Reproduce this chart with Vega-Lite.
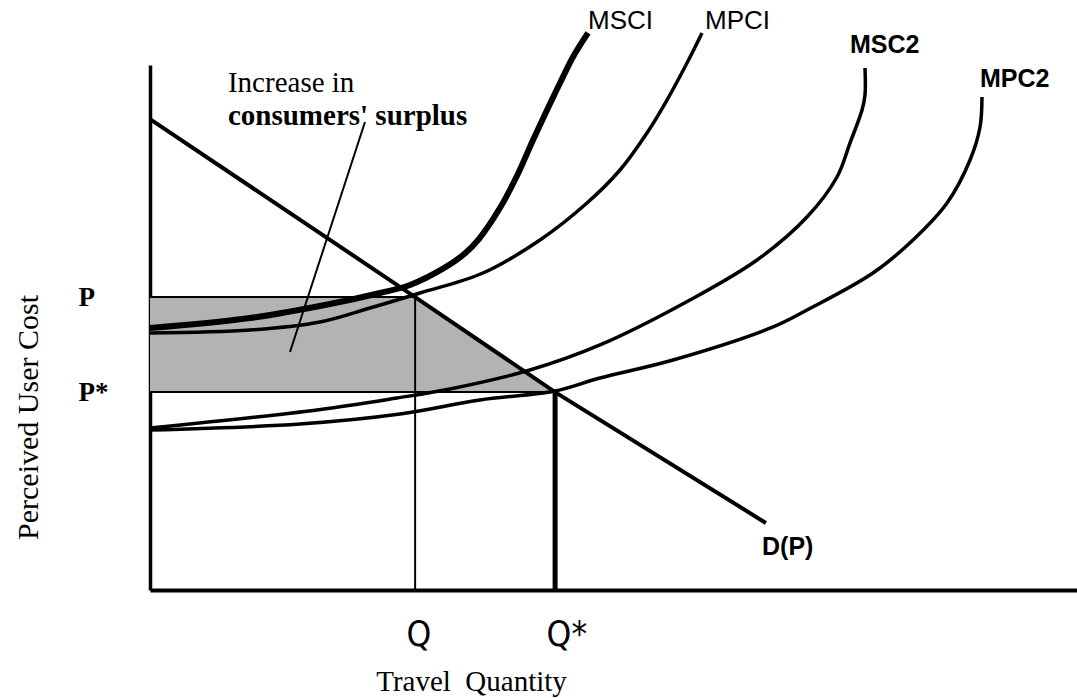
{
  "$schema": "https://vega.github.io/schema/vega-lite/v6.json",
  "width": 927,
  "height": 525,
  "autosize": {"type": "none"},
  "padding": {"left": 150, "top": 65, "right": 0, "bottom": 108},
  "background": "white",
  "config": {"view": {"stroke": null}},
  "datasets": {
    "shade": [
      {"x": 0, "y": 55.8, "y2": 37.7},
      {"x": 28.6, "y": 55.8, "y2": 37.7},
      {"x": 43.7, "y": 37.7, "y2": 37.7}
    ],
    "demand": [
      {"x": 0, "y": 89.7},
      {"x": 28.6, "y": 55.8},
      {"x": 43.7, "y": 37.7},
      {"x": 66.45, "y": 12.76}
    ],
    "curves": [
      {"curve": "MSCI", "i": 0, "x": 0, "y": 49.9},
      {"curve": "MSCI", "i": 1, "x": 10.79, "y": 51.81},
      {"curve": "MSCI", "i": 2, "x": 19.42, "y": 54.48},
      {"curve": "MSCI", "i": 3, "x": 24.81, "y": 56.57},
      {"curve": "MSCI", "i": 4, "x": 28.05, "y": 58.1},
      {"curve": "MSCI", "i": 5, "x": 31.61, "y": 61.2},
      {"curve": "MSCI", "i": 6, "x": 33.9, "y": 64.0},
      {"curve": "MSCI", "i": 7, "x": 35.5, "y": 66.9},
      {"curve": "MSCI", "i": 8, "x": 37.76, "y": 72.8},
      {"curve": "MSCI", "i": 9, "x": 39.59, "y": 78.9},
      {"curve": "MSCI", "i": 10, "x": 41.32, "y": 85.71},
      {"curve": "MSCI", "i": 11, "x": 42.83, "y": 91.43},
      {"curve": "MSCI", "i": 12, "x": 44.23, "y": 96.57},
      {"curve": "MSCI", "i": 13, "x": 45.63, "y": 101.52},
      {"curve": "MSCI", "i": 14, "x": 47.25, "y": 106.1},
      {"curve": "MPCI", "i": 0, "x": 0, "y": 48.95},
      {"curve": "MPCI", "i": 1, "x": 10.79, "y": 49.52},
      {"curve": "MPCI", "i": 2, "x": 18.34, "y": 51.05},
      {"curve": "MPCI", "i": 3, "x": 23.73, "y": 53.71},
      {"curve": "MPCI", "i": 4, "x": 29.13, "y": 56.57},
      {"curve": "MPCI", "i": 5, "x": 35.92, "y": 60.38},
      {"curve": "MPCI", "i": 6, "x": 42.07, "y": 66.67},
      {"curve": "MPCI", "i": 7, "x": 47.14, "y": 73.71},
      {"curve": "MPCI", "i": 8, "x": 50.7, "y": 80.0},
      {"curve": "MPCI", "i": 9, "x": 53.61, "y": 87.05},
      {"curve": "MPCI", "i": 10, "x": 55.77, "y": 93.33},
      {"curve": "MPCI", "i": 11, "x": 57.93, "y": 100.38},
      {"curve": "MPCI", "i": 12, "x": 59.55, "y": 106.1},
      {"curve": "MSC2", "i": 0, "x": 0, "y": 30.86},
      {"curve": "MSC2", "i": 1, "x": 18.02, "y": 34.29},
      {"curve": "MSC2", "i": 2, "x": 26.64, "y": 36.57},
      {"curve": "MSC2", "i": 3, "x": 32.36, "y": 38.29},
      {"curve": "MSC2", "i": 4, "x": 40.99, "y": 41.9},
      {"curve": "MSC2", "i": 5, "x": 48.54, "y": 46.67},
      {"curve": "MSC2", "i": 6, "x": 58.25, "y": 55.24},
      {"curve": "MSC2", "i": 7, "x": 65.48, "y": 62.86},
      {"curve": "MSC2", "i": 8, "x": 70.87, "y": 71.05},
      {"curve": "MSC2", "i": 9, "x": 74.11, "y": 78.67},
      {"curve": "MSC2", "i": 10, "x": 75.51, "y": 85.14},
      {"curve": "MSC2", "i": 11, "x": 76.81, "y": 91.43},
      {"curve": "MSC2", "i": 12, "x": 77.13, "y": 94.29},
      {"curve": "MSC2", "i": 13, "x": 77.13, "y": 99.43},
      {"curve": "MPC2", "i": 0, "x": 0, "y": 30.48},
      {"curve": "MPC2", "i": 1, "x": 16.18, "y": 31.62},
      {"curve": "MPC2", "i": 2, "x": 26.97, "y": 33.52},
      {"curve": "MPC2", "i": 3, "x": 35.6, "y": 36.19},
      {"curve": "MPC2", "i": 4, "x": 43.69, "y": 37.9},
      {"curve": "MPC2", "i": 5, "x": 48.54, "y": 40.38},
      {"curve": "MPC2", "i": 6, "x": 56.42, "y": 43.81},
      {"curve": "MPC2", "i": 7, "x": 67.21, "y": 50.1},
      {"curve": "MPC2", "i": 8, "x": 70.87, "y": 53.33},
      {"curve": "MPC2", "i": 9, "x": 77.99, "y": 60.38},
      {"curve": "MPC2", "i": 10, "x": 82.31, "y": 66.67},
      {"curve": "MPC2", "i": 11, "x": 85.98, "y": 73.71},
      {"curve": "MPC2", "i": 12, "x": 88.46, "y": 81.9},
      {"curve": "MPC2", "i": 13, "x": 89.54, "y": 88.19},
      {"curve": "MPC2", "i": 14, "x": 89.75, "y": 93.9}
    ],
    "rules": [
      {"name": "Q", "x": 28.6, "y": 0, "x2": 28.6, "y2": 55.8},
      {"name": "Qstar", "x": 43.7, "y": 0, "x2": 43.7, "y2": 37.7},
      {"name": "P", "x": 0, "y": 55.8, "x2": 28.6, "y2": 55.8},
      {"name": "Pstar", "x": 0, "y": 37.7, "x2": 43.7, "y2": 37.7},
      {"name": "leader", "x": 23.19, "y": 89.14, "x2": 15.1, "y2": 45.33}
    ],
    "labels": [
      {"text": "Increase in", "kind": "serif", "x": 8.41, "y": 94.86},
      {"text": "consumers' surplus", "kind": "serifbold", "x": 8.41, "y": 88.57},
      {"text": "MSCI", "kind": "sans", "x": 47.25, "y": 106.86},
      {"text": "MPCI", "kind": "sans", "x": 59.87, "y": 106.86},
      {"text": "MSC2", "kind": "sansbold", "x": 75.51, "y": 102.29},
      {"text": "MPC2", "kind": "sansbold", "x": 89.54, "y": 95.81},
      {"text": "D(P)", "kind": "sansbold", "x": 66.02, "y": 6.67}
    ]
  },
  "encoding": {
    "x": {
      "field": "x",
      "type": "quantitative",
      "scale": {"domain": [0, 100], "nice": false, "zero": false},
      "axis": {
        "values": [28.6, 43.7],
        "labelExpr": "datum.value < 35 ? 'Q' : 'Q*'",
        "grid": false,
        "ticks": false,
        "tickSize": 0,
        "labelFlush": false,
        "labelAlign": "left",
        "labelOffset": -9,
        "labelBaseline": "alphabetic",
        "labelPadding": 55,
        "labelFont": "DejaVu Sans Condensed, DejaVu Sans, sans-serif",
        "labelFontWeight": 200,
        "labelFontSize": 35,
        "labelColor": "black",
        "domainColor": "black",
        "domainWidth": 4,
        "title": "Travel\u00a0\u00a0Quantity",
        "titleFont": "Liberation Serif",
        "titleFontSize": 29,
        "titleFontWeight": "normal",
        "titleColor": "black",
        "titleX": 321,
        "titleY": 100,
        "titleBaseline": "alphabetic",
        "titleAlign": "center"
      }
    },
    "y": {
      "field": "y",
      "type": "quantitative",
      "scale": {"domain": [0, 100], "nice": false, "zero": false},
      "axis": {
        "values": [37.7, 55.8],
        "labelExpr": "datum.value > 50 ? 'P' : 'P*'",
        "grid": false,
        "ticks": false,
        "tickSize": 0,
        "labelFlush": false,
        "labelAlign": "left",
        "labelBaseline": "middle",
        "labelPadding": 72,
        "labelFont": "Liberation Serif",
        "labelFontWeight": "bold",
        "labelFontSize": 27,
        "labelColor": "black",
        "domainColor": "black",
        "domainWidth": 3.5,
        "title": "Perceived User Cost",
        "titleFont": "Liberation Serif",
        "titleFontSize": 30,
        "titleFontWeight": "normal",
        "titleColor": "black",
        "titleAngle": -90,
        "titleX": -113,
        "titleY": 352,
        "titleBaseline": "alphabetic",
        "titleAlign": "center"
      }
    }
  },
  "layer": [
    {
      "data": {"name": "shade"},
      "mark": {"type": "area", "color": "#b3b3b3", "opacity": 1},
      "encoding": {"y2": {"field": "y2"}}
    },
    {
      "data": {"name": "rules"},
      "transform": [{"filter": "datum.name !== 'Qstar'"}],
      "mark": {"type": "rule", "color": "black", "strokeWidth": 2},
      "encoding": {"x2": {"field": "x2"}, "y2": {"field": "y2"}}
    },
    {
      "data": {"name": "rules"},
      "transform": [{"filter": "datum.name === 'Qstar'"}],
      "mark": {"type": "rule", "color": "black", "strokeWidth": 5},
      "encoding": {"x2": {"field": "x2"}, "y2": {"field": "y2"}}
    },
    {
      "data": {"name": "demand"},
      "mark": {"type": "line", "color": "black", "strokeWidth": 4},
      "encoding": {}
    },
    {
      "data": {"name": "curves"},
      "transform": [{"filter": "datum.curve !== 'MSCI'"}],
      "mark": {"type": "line", "color": "black", "strokeWidth": 3.5, "interpolate": "catmull-rom"},
      "encoding": {"detail": {"field": "curve"}, "order": {"field": "i", "type": "quantitative"}}
    },
    {
      "data": {"name": "curves"},
      "transform": [{"filter": "datum.curve === 'MSCI'"}],
      "mark": {"type": "line", "color": "black", "strokeWidth": 6, "interpolate": "catmull-rom"},
      "encoding": {"detail": {"field": "curve"}, "order": {"field": "i", "type": "quantitative"}}
    },
    {
      "data": {"name": "labels"},
      "transform": [{"filter": "datum.kind === 'serif'"}],
      "mark": {"type": "text", "align": "left", "baseline": "alphabetic", "font": "Liberation Serif", "fontSize": 29, "color": "black"},
      "encoding": {"text": {"field": "text"}}
    },
    {
      "data": {"name": "labels"},
      "transform": [{"filter": "datum.kind === 'serifbold'"}],
      "mark": {"type": "text", "align": "left", "baseline": "alphabetic", "font": "Liberation Serif", "fontWeight": "bold", "fontSize": 29, "color": "black"},
      "encoding": {"text": {"field": "text"}}
    },
    {
      "data": {"name": "labels"},
      "transform": [{"filter": "datum.kind === 'sans'"}],
      "mark": {"type": "text", "align": "left", "baseline": "alphabetic", "font": "Liberation Sans", "fontSize": 26, "color": "black"},
      "encoding": {"text": {"field": "text"}}
    },
    {
      "data": {"name": "labels"},
      "transform": [{"filter": "datum.kind === 'sansbold'"}],
      "mark": {"type": "text", "align": "left", "baseline": "alphabetic", "font": "Liberation Sans", "fontWeight": "bold", "fontSize": 25, "color": "black"},
      "encoding": {"text": {"field": "text"}}
    }
  ]
}
